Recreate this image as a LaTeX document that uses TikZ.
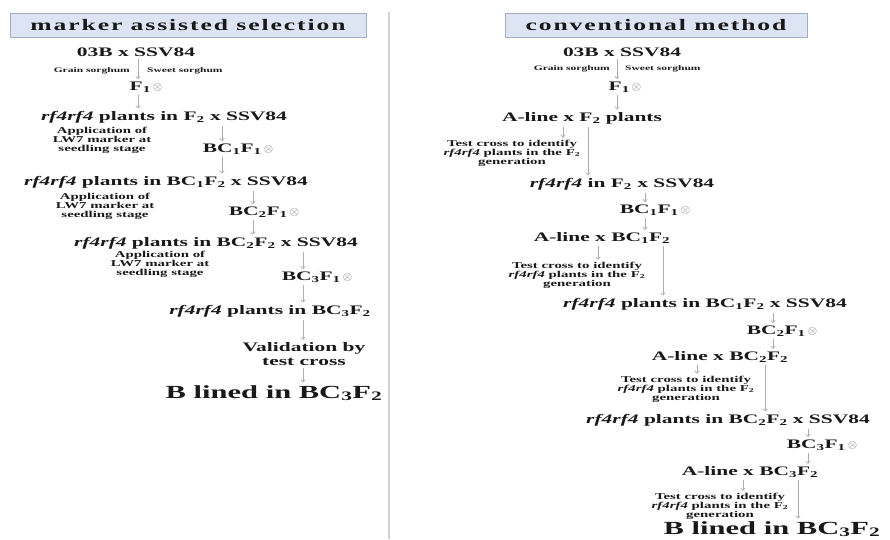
\documentclass[tikz,border=0pt]{standalone}
\usepackage{fontspec}
\setmainfont{Liberation Serif}[FakeStretch=1.65]
\newfontfamily\headfont{Liberation Serif}[FakeStretch=1.6,LetterSpace=12]
\usetikzlibrary{arrows.meta}
\usepackage{xcolor}
\definecolor{HeadFill}{RGB}{221,229,245}
\definecolor{HeadLine}{RGB}{165,175,195}
\definecolor{ArrowGray}{RGB}{165,175,182}
\definecolor{RuleGray}{RGB}{205,210,215}
\definecolor{InkGray}{RGB}{25,25,25}
\newcommand{\rfg}{\textit{rf4rf4}}
\newcommand{\lo}[1]{\textsubscript{#1}}
\newcommand{\selfed}{\,{\color{black!60}$\otimes$}}

\begin{document}
\begin{tikzpicture}[
x=1pt,y=-1pt,
head/.style={
rectangle,draw=HeadLine,fill=HeadFill,line width=0.8pt,text=InkGray,
minimum height=24pt,inner sep=0pt,font=\headfont\bfseries\fontsize{16}{18}\selectfont
},
gen/.style={inner sep=1.5pt,align=center,text=InkGray,font=\bfseries\fontsize{13}{14}\selectfont},
note/.style={inner sep=1pt,align=center,text=InkGray,font=\bfseries\fontsize{9}{9}\selectfont},
small/.style={inner sep=1pt,text=InkGray,font=\bfseries\fontsize{7}{8}\selectfont},
final/.style={inner sep=1.5pt,text=InkGray,font=\bfseries\fontsize{18.5}{20}\selectfont},
arrow/.style={-{To[length=3pt,width=5pt]},draw=ArrowGray,line width=0.7pt,shorten <=1pt,shorten >=1pt}
]
\useasboundingbox (0,0) rectangle (890,539);
\draw[RuleGray,line width=1.5pt] (389,12) -- (389,539);

\node[head,minimum width=356pt] (hl) at (188,25) {marker assisted selection};
\node[gen] (l0) at (136,52) {03B x SSV84};
\node[small,anchor=east] (gl) at (131,71) {Grain sorghum};
\node[small,anchor=west] (sl) at (146,71) {Sweet sorghum};
\node[gen] (l1) at (146,87) {F\lo{1}\selfed};
\node[gen] (l2) at (164,117) {\rfg{} plants in F\lo{2} x SSV84};
\node[note] (n1) at (102,140) {Application of\\LW7 marker at\\seedling stage};
\node[gen] (l3) at (238,149) {BC\lo{1}F\lo{1}\selfed};
\node[gen] (l4) at (166,182) {\rfg{} plants in BC\lo{1}F\lo{2} x SSV84};
\node[note] (n2) at (105,206) {Application of\\LW7 marker at\\seedling stage};
\node[gen] (l5) at (264,212) {BC\lo{2}F\lo{1}\selfed};
\node[gen] (l6) at (216,243) {\rfg{} plants in BC\lo{2}F\lo{2} x SSV84};
\node[note] (n3) at (160,264) {Application of\\LW7 marker at\\seedling stage};
\node[gen] (l7) at (317,277) {BC\lo{3}F\lo{1}\selfed};
\node[gen] (l8) at (270,311) {\rfg{} plants in BC\lo{3}F\lo{2}};
\node[gen] (l9) at (304,354) {Validation by\\test cross};
\node[final] (l10) at (274,393) {B lined in BC\lo{3}F\lo{2}};

\coordinate (ka) at (138,0);
\coordinate (kb) at (222,0);
\coordinate (kc) at (253,0);
\coordinate (kd) at (303,0);
\draw[arrow] (l0.south -| ka) -- (l1.north -| ka);
\draw[arrow] (l1.south -| ka) -- (l2.north -| ka);
\draw[arrow] (l2.south -| kb) -- (l3.north -| kb);
\draw[arrow] (l3.south -| kb) -- (l4.north -| kb);
\draw[arrow] (l4.south -| kc) -- (l5.north -| kc);
\draw[arrow] (l5.south -| kc) -- (l6.north -| kc);
\draw[arrow] (l6.south -| kd) -- (l7.north -| kd);
\draw[arrow] (l7.south -| kd) -- (l8.north -| kd);
\draw[arrow] (l8.south -| kd) -- (l9.north -| kd);
\draw[arrow] (l9.south -| kd) -- (l10.north -| kd);

\node[head,minimum width=302pt] (hr) at (656,25) {conventional method};
\node[gen] (r0) at (622,52) {03B x SSV84};
\node[small,anchor=east] (gr) at (611,69) {Grain sorghum};
\node[small,anchor=west] (sr) at (624,69) {Sweet sorghum};
\node[gen] (r1) at (625,87) {F\lo{1}\selfed};
\node[gen] (r2) at (582,118) {A-line x F\lo{2} plants};
\node[note] (t1) at (512,153) {Test cross to identify\\\rfg{} plants in the F\lo{2}\\generation};
\node[gen] (r3) at (622,184) {\rfg{} in F\lo{2} x SSV84};
\node[gen] (r4) at (655,210) {BC\lo{1}F\lo{1}\selfed};
\node[gen] (r5) at (602,238) {A-line x BC\lo{1}F\lo{2}};
\node[note] (t2) at (577,275) {Test cross to identify\\\rfg{} plants in the F\lo{2}\\generation};
\node[gen] (r6) at (705,304) {\rfg{} plants in BC\lo{1}F\lo{2} x SSV84};
\node[gen] (r7) at (782,331) {BC\lo{2}F\lo{1}\selfed};
\node[gen] (r8) at (720,357) {A-line x BC\lo{2}F\lo{2}};
\node[note] (t3) at (686,389) {Test cross to identify\\\rfg{} plants in the F\lo{2}\\generation};
\node[gen] (r9) at (728,420) {\rfg{} plants in BC\lo{2}F\lo{2} x SSV84};
\node[gen] (r10) at (822,445) {BC\lo{3}F\lo{1}\selfed};
\node[gen] (r11) at (750,472) {A-line x BC\lo{3}F\lo{2}};
\node[note] (t4) at (720,506) {Test cross to identify\\\rfg{} plants in the F\lo{2}\\generation};
\node[final] (r12) at (772,529) {B lined in BC\lo{3}F\lo{2}};

\coordinate (ma) at (617,0);
\coordinate (mb) at (563,0);
\coordinate (mc) at (588,0);
\coordinate (md) at (645,0);
\coordinate (me) at (598,0);
\coordinate (mf) at (663,0);
\coordinate (mg) at (773,0);
\coordinate (mh) at (697,0);
\coordinate (mi) at (765,0);
\coordinate (mj) at (808,0);
\coordinate (mk) at (743,0);
\coordinate (ml) at (798,0);
\draw[arrow] (r0.south -| ma) -- (r1.north -| ma);
\draw[arrow] (r1.south -| ma) -- (r2.north -| ma);
\draw[arrow] (r2.south -| mb) -- (t1.north -| mb);
\draw[arrow] (r2.south -| mc) -- (r3.north -| mc);
\draw[arrow] (r3.south -| md) -- (r4.north -| md);
\draw[arrow] (r4.south -| md) -- (r5.north -| md);
\draw[arrow] (r5.south -| me) -- (t2.north -| me);
\draw[arrow] (r5.south -| mf) -- (r6.north -| mf);
\draw[arrow] (r6.south -| mg) -- (r7.north -| mg);
\draw[arrow] (r7.south -| mg) -- (r8.north -| mg);
\draw[arrow] (r8.south -| mh) -- (t3.north -| mh);
\draw[arrow] (r8.south -| mi) -- (r9.north -| mi);
\draw[arrow] (r9.south -| mj) -- (r10.north -| mj);
\draw[arrow] (r10.south -| mj) -- (r11.north -| mj);
\draw[arrow] (r11.south -| mk) -- (t4.north -| mk);
\draw[arrow] (r11.south -| ml) -- (r12.north -| ml);

\end{tikzpicture}
\end{document}
